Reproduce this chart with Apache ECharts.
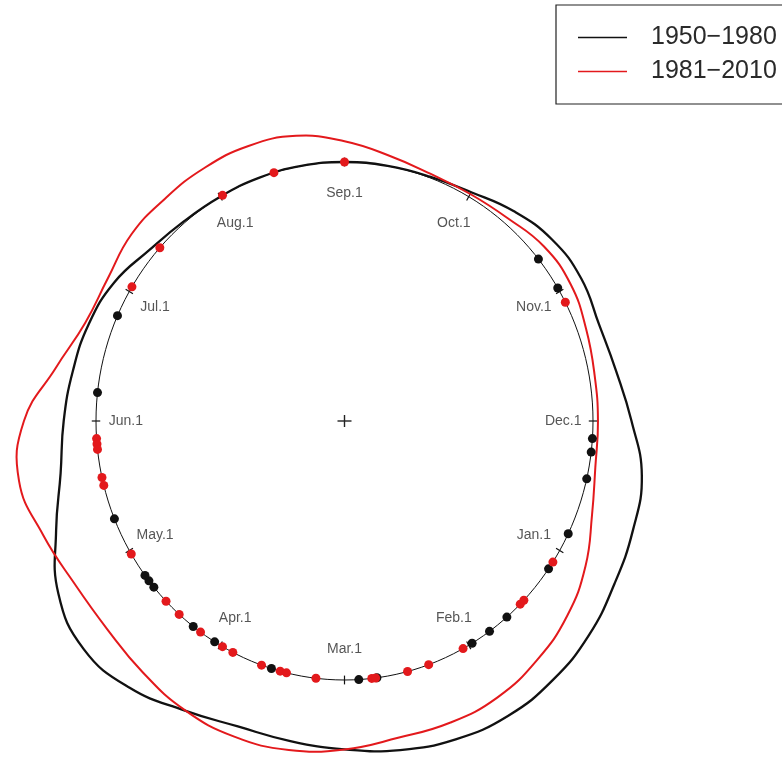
<!DOCTYPE html>
<html>
<head>
<meta charset="utf-8">
<script src="https://cdn.jsdelivr.net/npm/echarts@6/dist/echarts.min.js"></script>
<style>
  html, body { margin: 0; padding: 0; background: #ffffff; }
  #chart { width: 782px; height: 765px; }
</style>
</head>
<body>
<div id="chart"></div>
<script>
// Month marks around the circle (1 = Jan.1 ... 12 = Dec.1), one twelfth of the circle each
const monthLabels = ['Jan.1', 'Feb.1', 'Mar.1', 'Apr.1', 'May.1', 'Jun.1',
                     'Jul.1', 'Aug.1', 'Sep.1', 'Oct.1', 'Nov.1', 'Dec.1'];
const monthPos = [1, 2, 3, 4, 5, 6, 7, 8, 9, 10, 11, 12];

// Observed dates, as month positions (e.g. 4.5 = mid April)
const dates1950 = [10.71, 10.97, 12.13, 12.23, 12.43, 12.86, 1.16, 1.64, 1.81, 1.97,
                   2.75, 2.89, 3.57, 4.05, 4.25, 4.67, 4.73, 4.78, 5.26, 6.21, 6.80];
const dates1981 = [8.02, 8.45, 9.0, 7.40, 7.04, 5.87, 5.83, 5.79, 5.58, 5.52, 4.97,
                   4.53, 4.39, 4.18, 3.98, 3.89, 3.65, 3.50, 3.45, 3.22, 2.79, 2.76,
                   2.51, 2.34, 2.05, 1.50, 1.46, 1.10, 11.09];

// Circular density curves: radius (1 = unit circle) every 10 degrees,
// angle measured anticlockwise from Dec.1
const densityDeg = [0, 10, 20, 30, 40, 50, 60, 70, 80, 90, 100, 110, 120, 130, 140, 150, 160, 170,
                    180, 190, 200, 210, 220, 230, 240, 250, 260, 270, 280, 290, 300, 310, 320, 330, 340, 350];
const density1950 = [1.155, 1.11, 1.09, 1.10, 1.09, 1.058, 1.02, 1.004, 1.0, 1.0, 1.0, 1.0, 1.0, 1.006,
                     1.026, 1.07, 1.095, 1.11, 1.13, 1.16, 1.235, 1.33, 1.37, 1.345, 1.29, 1.255,
                     1.255, 1.268, 1.29, 1.308, 1.315, 1.305, 1.285, 1.255, 1.235, 1.215];
const density1981 = [1.02, 1.022, 1.035, 1.052, 1.048, 1.022, 1.012, 1.015, 1.04, 1.08, 1.118, 1.13,
                     1.128, 1.122, 1.12, 1.10, 1.11, 1.18, 1.29, 1.33, 1.29, 1.255, 1.248, 1.265,
                     1.288, 1.297, 1.29, 1.268, 1.242, 1.24, 1.232, 1.205, 1.17, 1.12, 1.06, 1.025];

const seriesNames = ['1950\u22121980', '1981\u22122010'];

// ---- layout ----
const W = 782, H = 765;
const CX = 344.5, CY = 421;      // pixel centre of the circle
const RX = 248.5, RY = 259;      // pixels per unit radius
const BLACK = '#111111';
const RED = '#e3191c';

function monthDeg(m) { return 90 - (m - 9) * 30; }
function polar(deg, r) {
  const a = deg * Math.PI / 180;
  return [r * Math.cos(a), r * Math.sin(a)];
}

function densitySeries(name, radii, color, width, z) {
  return {
    name: name,
    type: 'custom',
    silent: true,
    z: z,
    itemStyle: { color: color },
    data: [[0, 0]],
    renderItem: function (params, api) {
      const pts = densityDeg.map(function (d, i) { return api.coord(polar(d, radii[i])); });
      return {
        type: 'polygon',
        shape: { points: pts, smooth: 0.45 },
        style: { fill: null, stroke: color, lineWidth: width }
      };
    }
  };
}

function dotSeries(name, dates, color, z) {
  return {
    name: name,
    type: 'scatter',
    silent: true,
    z: z,
    symbol: 'circle',
    symbolSize: 9,
    itemStyle: { color: color, opacity: 1 },
    data: dates.map(function (m) { return polar(monthDeg(m), 1); })
  };
}

const chart = echarts.init(document.getElementById('chart'), null, { renderer: 'canvas' });

chart.setOption({
  backgroundColor: '#ffffff',
  animation: false,
  grid: { left: 0, top: 0, width: W, height: H, containLabel: false },
  xAxis: { type: 'value', min: -CX / RX, max: (W - CX) / RX, show: false },
  yAxis: { type: 'value', min: -(H - CY) / RY, max: CY / RY, show: false },
  legend: {
    left: 556,
    top: 5,
    orient: 'vertical',
    data: seriesNames,
    icon: 'rect',
    itemWidth: 49,
    itemHeight: 1.6,
    itemGap: 9,
    padding: [20, 24, 20, 22],
    borderColor: '#222',
    borderWidth: 1.2,
    borderRadius: 0,
    selectedMode: false,
    textStyle: {
      fontFamily: '"Liberation Sans", Arial, sans-serif',
      fontSize: 25,
      lineHeight: 24,
      color: '#2a2a2a',
      padding: [0, 0, 0, 19]
    }
  },
  series: [
    // unit circle
    {
      type: 'custom',
      silent: true,
      z: 1,
      data: [[0, 0]],
      renderItem: function (params, api) {
        const pts = [];
        for (let d = 0; d <= 360; d += 2) pts.push(api.coord(polar(d, 1)));
        return { type: 'polyline', shape: { points: pts }, style: { fill: null, stroke: BLACK, lineWidth: 1 } };
      }
    },
    // month ticks and centre cross
    {
      type: 'custom',
      silent: true,
      z: 2,
      data: [[0, 0]],
      renderItem: function (params, api) {
        const children = monthPos.map(function (m) {
          const a = api.coord(polar(monthDeg(m), 0.983));
          const b = api.coord(polar(monthDeg(m), 1.017));
          return { type: 'line', shape: { x1: a[0], y1: a[1], x2: b[0], y2: b[1] },
                   style: { stroke: BLACK, lineWidth: 1.2 } };
        });
        const c = api.coord([0, 0]);
        children.push({ type: 'line', shape: { x1: c[0] - 7, y1: c[1], x2: c[0] + 7, y2: c[1] },
                        style: { stroke: '#222', lineWidth: 1.4 } });
        children.push({ type: 'line', shape: { x1: c[0], y1: c[1] - 6, x2: c[0], y2: c[1] + 6 },
                        style: { stroke: '#222', lineWidth: 1.4 } });
        return { type: 'group', children: children };
      }
    },
    densitySeries(seriesNames[0], density1950, BLACK, 2.3, 3),
    densitySeries(seriesNames[1], density1981, RED, 2, 4),
    dotSeries('dots1950', dates1950, BLACK, 5),
    dotSeries('dots1981', dates1981, RED, 6),
    // month labels inside the circle
    {
      type: 'scatter',
      silent: true,
      z: 7,
      symbolSize: 0,
      data: monthPos.map(function (m, i) {
        return { name: monthLabels[i], value: polar(monthDeg(m), 0.88) };
      }),
      label: {
        show: true,
        position: 'inside',
        formatter: '{b}',
        fontFamily: '"Liberation Sans", Arial, sans-serif',
        fontSize: 14,
        color: '#2a2a2a'
      }
    }
  ]
});
</script>
</body>
</html>
